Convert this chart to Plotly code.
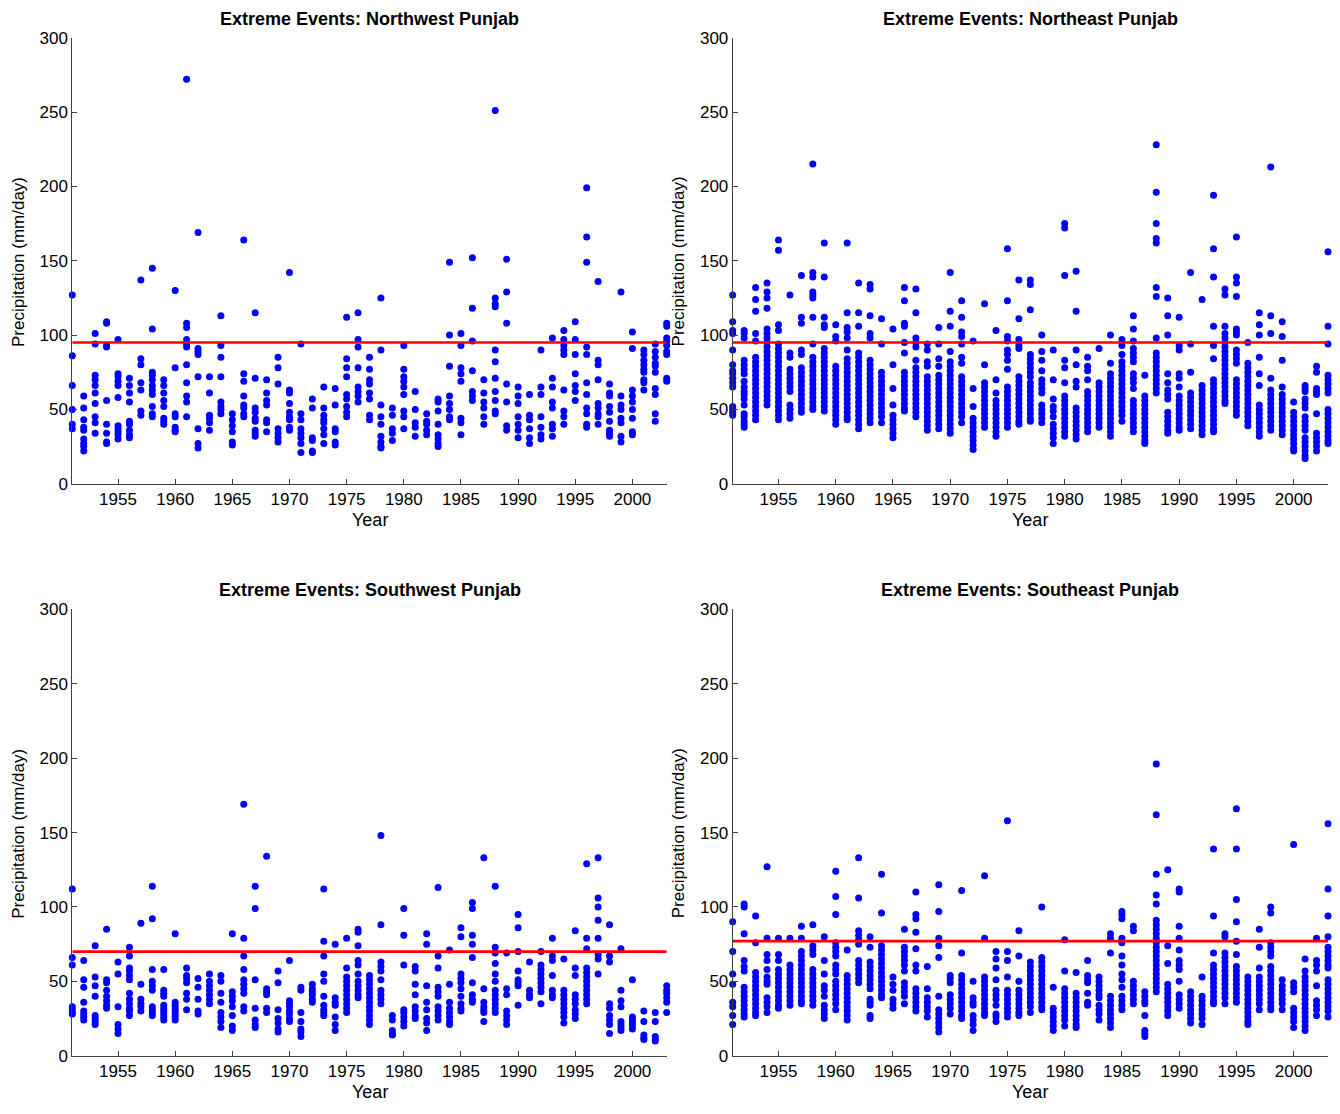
import plotly.graph_objects as go

# Years on the horizontal axis (one column of daily extremes per year)
years = list(range(1951, 2004))

# Extreme daily precipitation events (mm/day), one list per year
northwest = [
    [127, 86, 66, 50, 40, 37],
    [59, 51, 43, 38, 36, 30, 27, 25, 22],
    [101, 94, 73, 70, 66, 61, 54, 45, 41, 34],
    [109, 108, 93, 92, 56, 40, 34, 28, 27],
    [97, 74, 72, 69, 66, 58, 39, 37, 35, 33, 30],
    [71, 66, 61, 55, 42, 40, 36, 33, 31],
    [137, 84, 80, 68, 63, 49, 46],
    [145, 104, 75, 73, 70, 66, 63, 60, 52, 47, 45],
    [70, 66, 61, 56, 52, 44, 42, 40],
    [130, 78, 47, 45, 38, 36, 35],
    [272, 108, 105, 97, 94, 92, 80, 68, 59, 55, 45],
    [169, 91, 89, 87, 72, 37, 27, 24],
    [72, 61, 46, 44, 41, 36],
    [113, 93, 85, 72, 55, 52, 50, 47],
    [47, 43, 39, 35, 28, 26],
    [164, 74, 69, 59, 53, 51, 47, 45],
    [115, 71, 51, 48, 44, 42, 36, 34, 32],
    [70, 61, 56, 53, 43, 41, 35],
    [85, 78, 67, 37, 34, 31, 28],
    [142, 63, 61, 54, 48, 45, 43, 38, 36],
    [94, 47, 43, 37, 34, 31, 27, 21],
    [57, 51, 31, 29, 22, 21],
    [65, 51, 46, 43, 41, 37, 33, 27],
    [64, 53, 37, 35, 28, 26],
    [112, 84, 78, 72, 60, 57, 52, 48, 45],
    [115, 97, 92, 78, 65, 62, 59, 55],
    [85, 77, 70, 67, 61, 57, 46, 43],
    [125, 90, 53, 45, 40, 32, 28, 25, 24],
    [51, 46, 37, 34, 29],
    [93, 77, 72, 69, 65, 60, 49, 45, 37],
    [62, 50, 41, 38, 32],
    [47, 42, 40, 36, 33],
    [57, 55, 49, 40, 33, 30, 27, 25],
    [149, 100, 79, 59, 54, 50, 45, 43],
    [101, 93, 78, 74, 69, 44, 41, 33],
    [152, 118, 96, 76, 62, 59, 56],
    [70, 61, 55, 51, 45, 40],
    [251, 125, 121, 119, 90, 82, 71, 62, 56, 49, 47],
    [151, 129, 108, 67, 55, 39, 36],
    [65, 59, 54, 45, 40, 36, 31],
    [60, 46, 43, 37, 31, 27],
    [90, 65, 60, 45, 38, 33, 30],
    [98, 71, 65, 55, 51, 40, 37, 32],
    [103, 97, 93, 90, 87, 63, 49, 45, 40],
    [109, 97, 87, 74, 66, 62, 56],
    [199, 166, 149, 92, 87, 68, 60, 51, 47, 40, 38],
    [136, 83, 80, 70, 54, 51, 47, 45, 40],
    [67, 61, 59, 52, 48, 42, 36, 34, 32],
    [129, 59, 53, 50, 44, 41, 32, 28],
    [102, 91, 63, 59, 55, 50, 44, 35, 33],
    [90, 87, 83, 80, 77, 75, 70, 68, 63],
    [94, 89, 85, 81, 79, 75, 64, 60, 47, 42],
    [108, 106, 98, 96, 93, 89, 87, 71, 69],
]

northeast = [
    [127, 109, 103, 101, 90, 80, 76, 74, 71, 68, 65, 52, 50, 48, 46],
    [103, 101, 98, 83, 80, 77, 74, 69, 65, 62, 60, 57, 53, 47, 45, 42, 40, 38],
    [132, 124, 116, 101, 96, 85, 82, 79, 76, 73, 70, 67, 64, 61, 58, 55, 52, 49, 46, 43],
    [135, 129, 125, 118, 104, 101, 98, 95, 92, 89, 86, 83, 80, 77, 74, 71, 68, 65, 62, 59, 56, 53],
    [164, 157, 107, 103, 94, 91, 88, 85, 82, 79, 76, 73, 70, 67, 64, 61, 58, 55, 52, 49, 46, 43],
    [127, 88, 85, 77, 74, 71, 68, 65, 62, 53, 50, 47, 44],
    [140, 112, 108, 90, 87, 78, 75, 72, 69, 66, 63, 60, 57, 54, 51, 48],
    [215, 142, 139, 129, 127, 125, 112, 94, 85, 82, 79, 76, 73, 70, 67, 64, 61, 58, 55, 52, 50],
    [162, 139, 112, 107, 105, 91, 88, 85, 82, 79, 76, 73, 70, 67, 64, 61, 58, 55, 52, 49],
    [107, 99, 96, 79, 76, 73, 70, 67, 64, 61, 58, 55, 52, 49, 46, 43, 40],
    [162, 115, 105, 102, 98, 90, 84, 81, 78, 75, 72, 69, 66, 63, 60, 57, 54, 51, 48, 45, 43],
    [135, 115, 106, 88, 85, 82, 79, 76, 73, 70, 67, 64, 61, 58, 55, 52, 49, 46, 43, 40, 37],
    [134, 131, 113, 101, 98, 83, 80, 77, 74, 71, 68, 65, 62, 59, 56, 53, 50, 47, 44, 41],
    [111, 94, 75, 72, 69, 66, 63, 60, 57, 54, 51, 48, 45, 41],
    [104, 80, 64, 53, 46, 43, 40, 37, 34, 31],
    [132, 123, 108, 106, 95, 88, 75, 72, 69, 66, 63, 60, 57, 54, 51, 49],
    [131, 115, 98, 95, 92, 83, 78, 75, 72, 69, 66, 63, 60, 57, 54, 51, 48, 45],
    [94, 90, 82, 79, 72, 69, 66, 63, 60, 57, 54, 51, 48, 45, 42, 39, 36],
    [105, 94, 84, 79, 73, 70, 67, 64, 61, 58, 55, 52, 49, 46, 43, 40, 37],
    [142, 116, 106, 89, 82, 79, 76, 73, 70, 67, 64, 61, 58, 55, 52, 49, 46, 43, 40, 37, 34],
    [123, 112, 102, 99, 94, 85, 81, 72, 69, 66, 63, 60, 57, 54, 51, 48, 45, 41],
    [96, 64, 52, 44, 41, 38, 35, 32, 29, 26, 23],
    [121, 80, 68, 65, 62, 59, 56, 53, 50, 47, 44, 41, 38],
    [103, 70, 61, 56, 53, 50, 47, 44, 41, 38, 35, 32],
    [158, 123, 99, 96, 90, 87, 83, 77, 65, 62, 59, 56, 53, 50, 47, 44, 41, 38],
    [137, 111, 97, 93, 91, 72, 69, 66, 63, 60, 57, 54, 51, 48, 45, 42, 40],
    [137, 134, 117, 87, 84, 81, 78, 75, 72, 68, 65, 62, 59, 56, 53, 50, 47, 44, 42],
    [100, 89, 83, 76, 70, 67, 64, 61, 53, 50, 47, 44, 41],
    [90, 70, 57, 52, 49, 45, 40, 37, 34, 31, 27],
    [175, 172, 140, 83, 78, 68, 59, 56, 53, 50, 47, 44, 41, 38, 35, 32],
    [143, 116, 90, 80, 69, 65, 51, 48, 45, 42, 39, 36, 33, 30],
    [85, 79, 76, 70, 62, 59, 56, 53, 50, 47, 44, 41, 38, 35],
    [91, 68, 65, 62, 59, 56, 53, 50, 47, 44, 41, 38],
    [100, 81, 74, 71, 68, 65, 62, 59, 56, 53, 50, 47, 44, 41, 38, 35, 32],
    [97, 93, 87, 82, 79, 76, 73, 70, 67, 64, 61, 58, 55, 52, 49, 46, 42],
    [113, 104, 96, 91, 88, 85, 82, 74, 71, 68, 64, 56, 53, 50, 47, 44, 41, 38, 35],
    [73, 59, 56, 53, 50, 47, 44, 41, 38, 35, 32, 29, 27],
    [228, 196, 175, 165, 162, 132, 126, 98, 88, 85, 82, 79, 76, 73, 70, 67, 64, 61],
    [125, 113, 100, 74, 68, 63, 60, 57, 48, 45, 42, 39, 36, 34],
    [112, 93, 90, 74, 71, 65, 59, 56, 53, 50, 47, 44, 41, 38, 36],
    [142, 94, 75, 61, 58, 55, 52, 49, 46, 43, 40, 37],
    [124, 66, 63, 60, 57, 54, 51, 48, 45, 42, 39, 36, 33],
    [194, 158, 139, 106, 93, 84, 70, 67, 64, 61, 58, 55, 52, 49, 46, 43, 40, 37, 35],
    [131, 127, 106, 101, 98, 95, 92, 89, 86, 83, 80, 77, 74, 71, 68, 65, 62, 59, 56, 54],
    [166, 139, 135, 126, 104, 102, 100, 90, 87, 84, 81, 70, 67, 64, 61, 58, 55, 52, 49, 46],
    [95, 81, 78, 75, 72, 69, 66, 63, 60, 57, 54, 51, 48, 45, 42, 39],
    [115, 107, 100, 85, 74, 66, 53, 50, 47, 44, 41, 38, 35, 32],
    [213, 113, 101, 71, 63, 60, 57, 54, 51, 48, 45, 42, 39, 36],
    [109, 99, 83, 65, 60, 57, 54, 51, 48, 45, 42, 39, 36, 33],
    [55, 48, 45, 42, 39, 36, 33, 30, 27, 24, 22],
    [66, 64, 62, 57, 54, 51, 45, 42, 39, 36, 31, 28, 25, 22, 19, 17],
    [79, 75, 64, 62, 60, 47, 34, 31, 28, 25, 22],
    [156, 106, 94, 73, 70, 67, 64, 61, 50, 47, 44, 41, 38, 35, 32, 29, 27],
]

southwest = [
    [112, 66, 61, 33, 31, 29, 28],
    [64, 51, 46, 36, 30, 28, 26, 24],
    [74, 53, 47, 40, 27, 25, 23, 21],
    [85, 51, 49, 44, 40, 37, 34, 32],
    [63, 55, 33, 21, 18, 15],
    [73, 67, 59, 57, 54, 51, 42, 38, 35, 32, 30, 27],
    [89, 48, 38, 35, 33, 30],
    [114, 92, 58, 50, 47, 44, 33, 31, 29, 27],
    [58, 44, 42, 40, 34, 32, 30, 28, 26, 24],
    [82, 36, 34, 32, 30, 28, 26, 24],
    [59, 54, 52, 49, 42, 38, 31],
    [52, 46, 38, 30, 28],
    [55, 50, 47, 44, 41, 38, 35],
    [54, 50, 42, 36, 29, 26, 23, 19],
    [82, 43, 40, 37, 33, 27, 20, 17],
    [169, 79, 67, 58, 51, 48, 45, 42, 33, 30],
    [114, 99, 51, 32, 24, 21, 19],
    [134, 45, 43, 41, 32, 29],
    [57, 49, 31, 25, 22, 18, 16],
    [64, 37, 35, 33, 30, 28, 25, 23],
    [46, 44, 29, 23, 18, 16, 13],
    [48, 45, 43, 41, 38, 36],
    [112, 77, 67, 55, 50, 40, 34, 31, 29, 27],
    [75, 39, 36, 34, 26, 21, 17],
    [79, 59, 53, 50, 47, 44, 41, 38, 35, 32, 29],
    [85, 83, 74, 64, 61, 55, 50, 47, 44, 41, 39],
    [54, 51, 48, 45, 42, 39, 36, 33, 30, 27, 24, 21],
    [148, 88, 63, 60, 57, 51, 44, 41, 38, 35],
    [27, 24, 17, 15, 14],
    [99, 81, 61, 31, 29, 26, 23, 20],
    [60, 57, 48, 41, 33, 30, 27, 25],
    [82, 75, 47, 36, 31, 25, 22, 17],
    [113, 67, 59, 46, 43, 40, 33, 30, 27, 24],
    [71, 48, 36, 32, 29, 26, 23, 21],
    [86, 80, 55, 52, 49, 45, 40, 35, 32, 30],
    [103, 99, 81, 75, 66, 49, 41, 38, 36],
    [133, 45, 36, 33, 31, 29, 23],
    [114, 73, 69, 62, 55, 50, 44, 41, 38, 35, 32, 29],
    [69, 45, 41, 30, 27, 24, 21],
    [95, 86, 70, 57, 51, 49, 47, 34],
    [63, 44, 41, 39],
    [70, 61, 58, 55, 52, 49, 46, 43, 35],
    [79, 67, 64, 54, 44, 41, 39],
    [65, 44, 41, 38, 35, 32, 29, 26, 22],
    [84, 59, 54, 41, 38, 35, 31, 28, 25],
    [129, 79, 72, 59, 56, 53, 50, 47, 44, 41, 38, 35],
    [133, 106, 100, 91, 79, 68, 65, 55],
    [88, 67, 63, 35, 32, 27, 24, 21, 15],
    [72, 44, 37, 33, 23, 21, 19, 17],
    [51, 26, 24, 22, 20, 18],
    [30, 23, 14, 12, 11],
    [29, 23, 13, 11, 10],
    [47, 44, 42, 39, 36, 29],
]

southeast = [
    [90, 70, 55, 48, 36, 33, 27, 21],
    [102, 100, 82, 64, 60, 57, 46, 43, 40, 37, 34, 31, 28, 26],
    [94, 76, 56, 53, 50, 47, 44, 41, 38, 35, 32, 29, 27],
    [127, 79, 68, 64, 58, 53, 50, 48, 39, 36, 33, 29],
    [79, 68, 64, 58, 55, 52, 49, 46, 43, 40, 37, 34, 32],
    [79, 61, 58, 55, 52, 49, 46, 43, 40, 37, 34],
    [87, 79, 70, 67, 64, 61, 58, 55, 52, 49, 46, 43, 40, 37, 35],
    [88, 74, 71, 68, 58, 55, 52, 49, 46, 43, 40, 37, 34],
    [80, 64, 55, 47, 44, 40, 34, 31, 28, 25],
    [124, 107, 95, 76, 73, 70, 67, 61, 58, 55, 50, 47, 44, 41, 38, 35, 31],
    [71, 54, 51, 48, 45, 42, 39, 36, 33, 30, 27, 24],
    [133, 106, 84, 81, 78, 75, 64, 61, 58, 55, 52, 49],
    [80, 73, 63, 60, 57, 54, 51, 48, 45, 38, 36, 34, 27, 25],
    [122, 96, 74, 71, 68, 65, 62, 59, 56, 53, 50, 47, 44, 41, 39],
    [53, 48, 44, 38, 35, 32],
    [85, 73, 70, 67, 64, 61, 57, 49, 46, 43, 40, 35],
    [110, 95, 92, 83, 72, 61, 57, 45, 42, 39, 36, 33, 30],
    [60, 45, 39, 36, 33, 30, 26],
    [115, 97, 79, 74, 66, 40, 31, 28, 25, 22, 19, 16],
    [54, 52, 49, 41, 38, 35, 32, 28],
    [111, 69, 54, 51, 48, 45, 42, 39, 36, 33, 30, 27, 25],
    [50, 39, 36, 34, 27, 24, 21, 17],
    [121, 79, 53, 50, 47, 44, 41, 38, 35, 32, 29, 27],
    [70, 65, 59, 51, 44, 41, 38, 34, 28, 26, 23],
    [158, 70, 64, 53, 44, 41, 38, 35, 32, 29, 26],
    [84, 67, 50, 44, 41, 38, 35, 32, 29, 27],
    [63, 60, 57, 54, 51, 48, 45, 42, 39, 36, 33, 29],
    [100, 66, 63, 60, 57, 54, 51, 48, 45, 42, 39, 36, 33, 31],
    [46, 32, 29, 26, 23, 20, 17],
    [78, 57, 45, 42, 39, 36, 33, 30, 27, 24, 20],
    [56, 42, 39, 36, 33, 30, 27, 24, 21, 19],
    [64, 54, 51, 49, 42, 36, 34],
    [53, 50, 47, 44, 41, 39, 34, 31, 28, 24],
    [82, 79, 69, 40, 37, 34, 31, 28, 25, 22, 19],
    [97, 95, 92, 79, 76, 67, 61, 55, 51, 46, 40, 37, 34, 31],
    [87, 84, 50, 47, 44, 41, 38, 35],
    [43, 40, 37, 35, 27, 17, 15, 13],
    [196, 162, 122, 108, 102, 91, 88, 85, 82, 79, 76, 73, 70, 67, 64, 61, 58, 55, 52, 49, 46, 43],
    [125, 74, 62, 48, 45, 42, 39, 36, 33, 30, 27],
    [112, 110, 87, 79, 71, 64, 61, 58, 50, 41, 38, 35, 32],
    [43, 40, 37, 34, 31, 28, 25, 22],
    [53, 40, 37, 34, 31, 28, 25, 21],
    [139, 94, 69, 61, 58, 55, 52, 49, 46, 43, 40, 37, 35],
    [82, 80, 69, 66, 63, 60, 57, 54, 51, 48, 45, 42, 39, 35],
    [166, 139, 105, 90, 77, 68, 60, 57, 54, 51, 48, 45, 42, 39, 36],
    [53, 50, 47, 44, 41, 38, 35, 32, 29, 26, 23, 21],
    [85, 73, 59, 53, 50, 47, 44, 41, 38, 35, 31],
    [100, 96, 76, 73, 70, 67, 60, 57, 54, 51, 48, 45, 42, 39, 36, 33, 31],
    [51, 47, 44, 41, 38, 35, 31],
    [142, 49, 46, 43, 32, 29, 26, 23, 19],
    [65, 57, 53, 50, 47, 44, 41, 38, 35, 32, 29, 26, 23, 20, 17],
    [79, 64, 61, 57, 47, 37, 34, 31, 27],
    [156, 112, 94, 80, 73, 70, 67, 64, 61, 59, 51, 48, 45, 42, 39, 36, 33, 30, 26],
]

# Extreme-event threshold for each region (mm/day)
thresholds = [95, 95, 70, 77]

titles = [
    "Extreme Events: Northwest Punjab",
    "Extreme Events: Northeast Punjab",
    "Extreme Events: Southwest Punjab",
    "Extreme Events: Southeast Punjab",
]
panels = [northwest, northeast, southwest, southeast]

x_ticks = [1955, 1960, 1965, 1970, 1975, 1980, 1985, 1990, 1995, 2000]
y_ticks = [0, 50, 100, 150, 200, 250, 300]

W, H = 1340, 1114
# The page shows the figure with an 8px inset and a slight vertical
# squeeze, so screen rows are mapped back to figure rows here.
INSET, SQUEEZE = 7.9, 0.9858
# plot-area boxes in screen pixels: (left, right, top, bottom)
boxes = [
    (72.3, 666.7, 36.7, 484.0),
    (732.7, 1328.0, 36.7, 484.0),
    (72.3, 666.7, 610.0, 1057.7),
    (732.7, 1328.0, 610.0, 1057.7),
]

FONT = "Liberation Sans, Arial, sans-serif"
fig = go.Figure()
layout = dict(
    width=W, height=H,
    margin=dict(l=0, r=0, t=0, b=0),
    paper_bgcolor="white", plot_bgcolor="white",
    showlegend=False,
    font=dict(family=FONT, size=17, color="black"),
)
annotations = []


def py(y_px):
    """Screen pixel row -> paper fraction."""
    return 1 - ((y_px - INSET) / SQUEEZE) / H


def label(text, x_px, y_px, size, angle=0):
    return dict(
        text=text, x=x_px / W, y=py(y_px),
        xref="paper", yref="paper", xanchor="center", yanchor="middle",
        showarrow=False, textangle=angle,
        font=dict(family=FONT, size=size, color="black"),
    )


for i, (vals, thr, title, box) in enumerate(zip(panels, thresholds, titles, boxes)):
    n = "" if i == 0 else str(i + 1)
    left, right, top, bottom = box
    xs, ys = [], []
    for yr, col in zip(years, vals):
        xs += [yr] * len(col)
        ys += col
    fig.add_trace(go.Scatter(
        x=xs, y=ys, mode="markers",
        marker=dict(color="#0000ff", size=7, line=dict(width=0)),
        xaxis="x" + n, yaxis="y" + n, cliponaxis=False,
    ))
    fig.add_trace(go.Scatter(
        x=[years[0], years[-1]], y=[thr, thr], mode="lines",
        line=dict(color="#ff0000", width=2.7),
        xaxis="x" + n, yaxis="y" + n, cliponaxis=False,
    ))
    common = dict(
        showline=True, linecolor="#404040", linewidth=1,
        ticks="inside", ticklen=5, tickwidth=1, tickcolor="#404040",
        showgrid=False, zeroline=False, mirror=False,
        tickfont=dict(family=FONT, size=17, color="black"),
    )
    layout["xaxis" + n] = dict(
        common, domain=[left / W, right / W], range=[years[0], years[-1]],
        tickvals=x_ticks, anchor="y" + n,
    )
    layout["yaxis" + n] = dict(
        common, domain=[py(bottom), py(top)], range=[0, 300],
        tickvals=y_ticks, anchor="x" + n,
    )
    cx = (left + right) / 2
    annotations.append(label("<b>" + title + "</b>", cx, top - 19, 18))
    annotations.append(label("Year", cx, bottom + 36, 18))
    annotations.append(label("Precipitation (mm/day)", left - 54,
                             (top + bottom) / 2 + 1, 17, angle=-90))

layout["annotations"] = annotations
fig.update_layout(**layout)
fig.write_html("out.html", config={"displayModeBar": False})
